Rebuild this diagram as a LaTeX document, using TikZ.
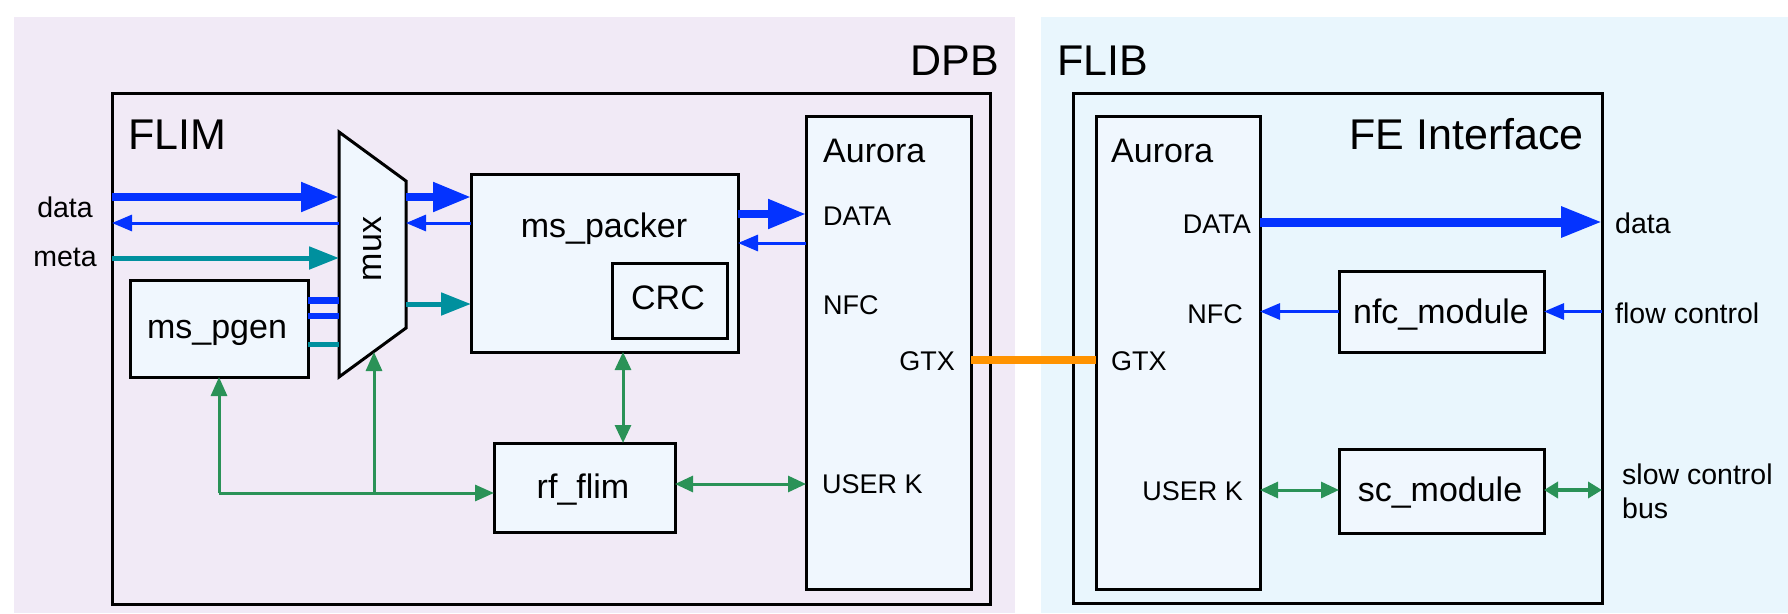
\documentclass[tikz,border=0pt]{standalone}
\usepackage{fontspec}
\setmainfont{Liberation Sans}
\usetikzlibrary{arrows.meta}
\definecolor{bgdpb}{HTML}{F1EAF6}
\definecolor{bgflib}{HTML}{E9F6FD}
\definecolor{boxfill}{HTML}{F0F7FE}
\definecolor{cblue}{HTML}{0433FF}
\definecolor{cteal}{HTML}{00909E}
\definecolor{cgreen}{HTML}{2A9257}
\definecolor{corange}{HTML}{FF9300}
\tikzset{
  frame/.style={draw=black, line width=3pt, inner sep=0pt, outer sep=0pt},
  blk/.style={frame, fill=boxfill},
  ttl/.style={inner sep=0pt, font=\fontsize{43}{50}\selectfont},
  blbl/.style={inner sep=0pt, font=\fontsize{34}{40}\selectfont},
  plbl/.style={inner sep=0pt, font=\fontsize{27}{32}\selectfont},
  xlbl/.style={inner sep=0pt, font=\fontsize{28.5}{34}\selectfont},
  thickblue/.style={line width=8pt, draw=cblue, -{Triangle[length=38pt,width=28pt]}},
  thinblue/.style={line width=3pt, draw=cblue, -{Triangle[length=20pt,width=16pt]}},
  tealarr/.style={line width=5pt, draw=cteal, -{Triangle[length=30pt,width=22pt]}},
  greenarr/.style={line width=3pt, draw=cgreen, -{Triangle[length=19pt,width=16pt]}},
  greendbl/.style={line width=3pt, draw=cgreen, {Triangle[length=18pt,width=16pt]}-{Triangle[length=18pt,width=16pt]}},
  greendblb/.style={line width=4.5pt, draw=cgreen, {Triangle[length=14pt,width=16pt]}-{Triangle[length=14pt,width=16pt]}},
  orangeline/.style={line width=8pt, draw=corange},
}
\begin{document}
\begin{tikzpicture}[x=1pt,y=-1pt]
\useasboundingbox (0,0) rectangle (1788,613);
% backgrounds
\fill[bgdpb] (14,17) rectangle (1015,613);
\fill[bgflib] (1041,17) rectangle (1788,613);

% frames
\node[frame, minimum width=878pt, minimum height=511pt] (flim) at (551,348.5) {};
\node[frame, minimum width=529pt, minimum height=510pt] (fe) at (1337.5,348) {};

% blocks
\node[blk, minimum width=165pt, minimum height=473pt] (aurd) at (888.5,352.5) {};
\node[blk, minimum width=164pt, minimum height=473pt] (aurf) at (1178,352.5) {};
\node[blk, minimum width=178pt, minimum height=97pt] (pgen) at (219,328.5) {};
\node[blk, minimum width=267pt, minimum height=178pt] (packer) at (604.5,263) {};
\node[blk, fill=none, minimum width=115pt, minimum height=75pt] (crc) at (669.5,300.5) {};
\node[blk, minimum width=181pt, minimum height=89pt] (rfflim) at (584.5,487.5) {};
\node[blk, minimum width=205pt, minimum height=81pt] (nfc) at (1441.5,311.5) {};
\node[blk, minimum width=205pt, minimum height=84pt] (sc) at (1441.5,491) {};

% mux trapezoid
\coordinate (muxTL) at (339,132);
\coordinate (muxTR) at (406,181);
\coordinate (muxBR) at (406,328);
\coordinate (muxBL) at (339,377);
\coordinate (muxB) at (374,352);
\draw[fill=boxfill, line width=3pt, line join=miter] (muxTL) -- (muxTR) -- (muxBR) -- (muxBL) -- cycle;
\node[blbl, rotate=90] (tmux) at (373,249) {mux};

% titles
\node[ttl, anchor=base east] (tdpb) at (999,75) {DPB};
\node[ttl, anchor=base west] (tflib) at (1057,75) {FLIB};
\node[ttl, anchor=base west] (tflim) at (128,149) {FLIM};
\node[ttl, anchor=base east] (tfe) at (1584,149) {FE Interface};

% block labels
\node[blbl, anchor=base west] (taurd) at (823,162) {Aurora};
\node[blbl, anchor=base west] (taurf) at (1111,162) {Aurora};
\node[blbl, anchor=base] (tpgen) at (217,338) {ms\_pgen};
\node[blbl, anchor=base] (tpacker) at (604,237) {ms\_packer};
\node[blbl, anchor=base] (tcrc) at (668,309) {CRC};
\node[blbl, anchor=base] (trf) at (583,498) {rf\_flim};
\node[blbl, anchor=base] (tnfc) at (1441,323) {nfc\_module};
\node[blbl, anchor=base] (tsc) at (1440,501) {sc\_module};

% port labels
\node[plbl, anchor=base west] (pdd) at (823,225) {DATA};
\node[plbl, anchor=base west] (pdn) at (823,314) {NFC};
\node[plbl, anchor=base east] (pdg) at (955,370) {GTX};
\node[plbl, anchor=base west] (pdu) at (822,493) {USER K};
\node[plbl, anchor=base east] (pfd) at (1251,233) {DATA};
\node[plbl, anchor=base east] (pfn) at (1243,323) {NFC};
\node[plbl, anchor=base west] (pfg) at (1111,370) {GTX};
\node[plbl, anchor=base east] (pfu) at (1243,500) {USER K};

% external labels
\node[xlbl, anchor=base] (xdata) at (65,217) {data};
\node[xlbl, anchor=base] (xmeta) at (65,266) {meta};
\node[xlbl, anchor=base west] (xdata2) at (1615,233) {data};
\node[xlbl, anchor=base west] (xflow) at (1615,323) {flow control};
\node[xlbl, anchor=base west] (xslow) at (1622,484) {slow control};
\node[xlbl, anchor=base west] (xbus) at (1622,518) {bus};

% DPB left inputs
\draw[thickblue] (flim.west |- 0,197) -- (muxTL |- 0,197);
\draw[thinblue] (muxTL |- 0,223) -- (flim.west |- 0,223);
\draw[tealarr] (flim.west |- 0,258) -- (muxTL |- 0,258);
\draw[line width=7pt, cblue] (pgen.east |- 0,300) -- (muxTL |- 0,300);
\draw[line width=6pt, cblue] (pgen.east |- 0,316) -- (muxTL |- 0,316);
\draw[line width=5pt, cteal] (pgen.east |- 0,344) -- (muxTL |- 0,344);

% mux to packer
\draw[thickblue] (muxTR |- 0,197) -- (packer.west |- 0,197);
\draw[thinblue] (packer.west |- 0,223) -- (muxTR |- 0,223);
\draw[tealarr] (muxTR |- 0,304) -- (packer.west |- 0,304);

% packer to Aurora
\draw[thickblue] (packer.east |- 0,214) -- (aurd.west |- 0,214);
\draw[thinblue] (aurd.west |- 0,243) -- (packer.east |- 0,243);

% green control
\coordinate (gj) at (219,493);
\draw[line width=3pt, cgreen] (gj) -- (muxB |- gj);
\draw[greenarr] (gj) -- (pgen.south);
\draw[greenarr] (muxB |- gj) -- (muxB);
\draw[greenarr] (muxB |- gj) -- (rfflim.west |- gj);
\coordinate (cx) at (623,0);
\draw[greendbl] (packer.south -| cx) -- (rfflim.north -| cx);
\draw[greendbl] (rfflim.east |- 0,484) -- (aurd.west |- 0,484);

% link
\draw[orangeline] (aurd.east |- 0,360) -- (aurf.west |- 0,360);

% FLIB
\draw[line width=9pt, draw=cblue, -{Triangle[length=41pt,width=29pt]}] (aurf.east |- 0,222) -- (fe.east |- 0,222);
\draw[thinblue] (nfc.west) -- (aurf.east |- nfc.west);
\draw[thinblue] (fe.east |- nfc.east) -- (nfc.east);
\draw[greendbl] (aurf.east |- 0,490) -- (sc.west |- 0,490);
\draw[greendblb] (sc.east |- 0,490) -- (fe.east |- 0,490);
\end{tikzpicture}
\end{document}
